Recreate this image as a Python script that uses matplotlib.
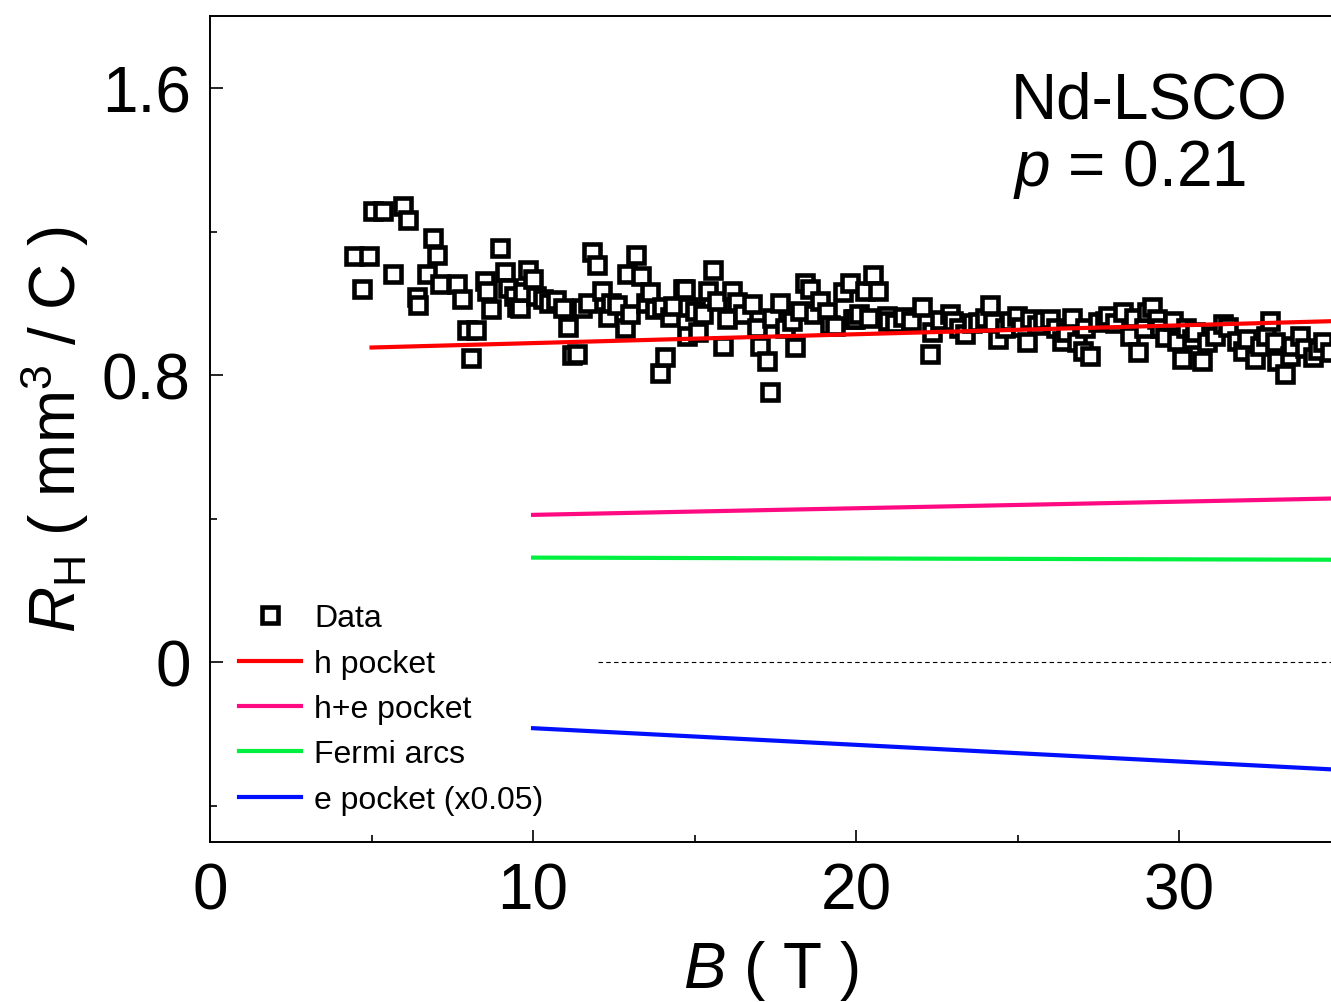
import numpy as np
import matplotlib
matplotlib.use('Agg')
from matplotlib import pyplot as plt
from matplotlib.ticker import MultipleLocator, FixedLocator

plt.rcParams['font.family'] = ['Liberation Sans', 'DejaVu Sans']
plt.rcParams['mathtext.fontset'] = 'custom'
plt.rcParams['mathtext.rm'] = 'Liberation Sans'
plt.rcParams['mathtext.it'] = 'Liberation Sans:italic'

# measured Hall coefficient (B in T, R_H in mm^3/C)
B_data = [4.46, 4.71, 4.92, 5.05, 5.36, 5.67, 5.98, 6.13, 6.41, 6.44,
          6.72, 6.90, 7.03, 7.12, 7.65, 7.80, 7.96, 8.08, 8.24, 8.51,
          8.58, 8.70, 8.98, 9.13, 9.23, 9.40, 9.50, 9.60, 9.69, 9.85,
          10.00, 10.10, 10.31, 10.50, 10.70, 10.93, 11.08, 11.21, 11.36, 11.52,
          11.70, 11.83, 11.98, 12.14, 12.32, 12.40, 12.60, 12.85, 12.91, 13.00,
          13.19, 13.34, 13.50, 13.62, 13.78, 13.93, 14.00, 14.09, 14.24, 14.33,
          14.64, 14.71, 14.77, 14.80, 15.00, 15.11, 15.26, 15.42, 15.57, 15.70,
          15.88, 16.00, 16.16, 16.32, 16.50, 16.78, 16.93, 17.03, 17.24, 17.34,
          17.40, 17.65, 17.80, 18.00, 18.11, 18.27, 18.42, 18.58, 18.70, 18.89,
          19.10, 19.20, 19.35, 19.60, 19.81, 19.91, 19.97, 20.10, 20.28, 20.40,
          20.53, 20.68, 20.96, 21.00, 21.20, 21.46, 21.70, 22.04, 22.29, 22.35,
          22.60, 22.91, 23.00, 23.20, 23.37, 23.60, 23.78, 24.00, 24.15, 24.24,
          24.40, 24.60, 24.77, 24.98, 25.10, 25.29, 25.39, 25.60, 25.80, 26.01,
          26.20, 26.38, 26.50, 26.69, 26.84, 27.03, 27.10, 27.24, 27.49, 27.70,
          27.80, 28.00, 28.27, 28.48, 28.60, 28.73, 28.90, 29.00, 29.16, 29.32,
          29.40, 29.57, 29.81, 29.94, 30.09, 30.20, 30.40, 30.50, 30.71, 30.87,
          31.10, 31.36, 31.50, 31.80, 31.98, 32.10, 32.35, 32.51, 32.70, 32.82,
          32.97, 33.03, 33.28, 33.44, 33.50, 33.75, 33.90, 34.15, 34.30, 34.46,
          34.67]
R_data = [1.133, 1.039, 1.133, 1.258, 1.258, 1.081, 1.272, 1.231, 1.019, 0.994,
          1.081, 1.183, 1.136, 1.053, 1.053, 1.011, 0.925, 0.847, 0.925, 1.061,
          1.033, 0.983, 1.153, 1.086, 1.044, 1.020, 0.989, 0.986, 1.031, 1.094,
          1.067, 1.020, 1.011, 1.000, 1.010, 0.986, 0.933, 0.856, 0.858, 0.986,
          1.000, 1.142, 1.106, 1.033, 0.961, 1.000, 0.994, 0.931, 1.081, 0.970,
          1.136, 1.075, 1.000, 1.031, 0.983, 0.806, 0.990, 0.850, 0.961, 0.992,
          1.039, 1.039, 0.908, 0.989, 0.980, 0.919, 0.969, 1.033, 1.092, 1.006,
          0.881, 0.956, 1.033, 1.003, 0.970, 0.997, 0.931, 0.881, 0.839, 0.753,
          0.960, 1.000, 0.931, 0.950, 0.878, 0.978, 1.058, 1.039, 0.970, 1.006,
          0.975, 0.940, 0.936, 1.031, 1.058, 0.956, 0.956, 0.970, 1.033, 0.960,
          1.078, 1.033, 0.964, 0.950, 0.945, 0.961, 0.950, 0.989, 0.858, 0.919,
          0.955, 0.969, 0.950, 0.930, 0.914, 0.945, 0.947, 0.960, 0.994, 0.947,
          0.900, 0.930, 0.950, 0.964, 0.935, 0.892, 0.956, 0.940, 0.955, 0.956,
          0.930, 0.894, 0.920, 0.958, 0.892, 0.867, 0.930, 0.853, 0.947, 0.950,
          0.964, 0.945, 0.975, 0.908, 0.960, 0.864, 0.930, 0.975, 0.989, 0.956,
          0.930, 0.906, 0.950, 0.894, 0.844, 0.930, 0.900, 0.920, 0.839, 0.892,
          0.910, 0.942, 0.935, 0.894, 0.867, 0.900, 0.844, 0.881, 0.910, 0.950,
          0.892, 0.839, 0.803, 0.853, 0.880, 0.908, 0.875, 0.850, 0.870, 0.892,
          0.864]

# model curves (end points of straight lines)
h_B = [5, 35]
h_R = [0.877, 0.951]
he_B = [10, 35]
he_R = [0.411, 0.457]
arcs_B = [10, 35]
arcs_R = [0.292, 0.286]
e_B = [10, 35]
e_R = [-0.183, -0.299]
zero_B = [12, 35]
zero_R = [0, 0]

fig = plt.figure(figsize=(13.31, 10.03), dpi=100)
ax = fig.add_axes([0.1578, 0.1595, 0.8422, 0.8235])

ax.plot(B_data, R_data, ls='none', marker='s', ms=11, mew=3.3,
        mfc='white', mec='black', label='Data', zorder=3)
ax.plot(h_B, h_R, c='#ff0000', lw=3, label='h pocket', zorder=4)
ax.plot(he_B, he_R, c='#ff0a82', lw=3, label='h+e pocket')
ax.plot(arcs_B, arcs_R, c='#00f040', lw=3, label='Fermi arcs')
ax.plot(e_B, e_R, c='#0010ff', lw=3, label='e pocket (x0.05)')
ax.plot(zero_B, zero_R, c='black', lw=0.8, ls=(0, (4, 3)))

ax.set_xlim(0, 34.7)
ax.set_ylim(-0.5, 1.8)
ax.xaxis.set_major_locator(FixedLocator([0, 10, 20, 30]))
ax.xaxis.set_minor_locator(FixedLocator([5, 15, 25]))
ax.yaxis.set_major_locator(FixedLocator([0, 0.8, 1.6]))
ax.yaxis.set_minor_locator(FixedLocator([-0.4, 0.4, 1.2]))
ax.set_yticklabels(['0', '0.8', '1.6'])

ax.tick_params(which='both', direction='in', top=False, right=False,
               labelsize=46, width=1.2)
ax.tick_params(which='major', length=9)
ax.tick_params(which='minor', length=5)
ax.tick_params(axis='y', pad=14)
ax.tick_params(axis='x', pad=14)
ax.spines['right'].set_visible(False)
for s in ['left', 'top', 'bottom']:
    ax.spines[s].set_linewidth(1.4)

ax.set_xlabel(r'$B$ ( T )', fontsize=46, labelpad=12)
ax.set_ylabel(r'$R_{\rm H}$ ( mm$^3$ / C )', fontsize=46, labelpad=8)

ax.text(0.714, 0.877, 'Nd-LSCO', transform=ax.transAxes, fontsize=46,
        va='baseline', ha='left')
ax.text(0.716, 0.795, r'$p$ = 0.21', transform=ax.transAxes, fontsize=46,
        va='baseline', ha='left')

ax.legend(loc='upper left', bbox_to_anchor=(0.006, 0.316), frameon=False,
          fontsize=23, handlelength=1.95, handletextpad=0.4, labelspacing=0.48,
          borderaxespad=0.3)

plt.savefig('out.png', dpi=100)
